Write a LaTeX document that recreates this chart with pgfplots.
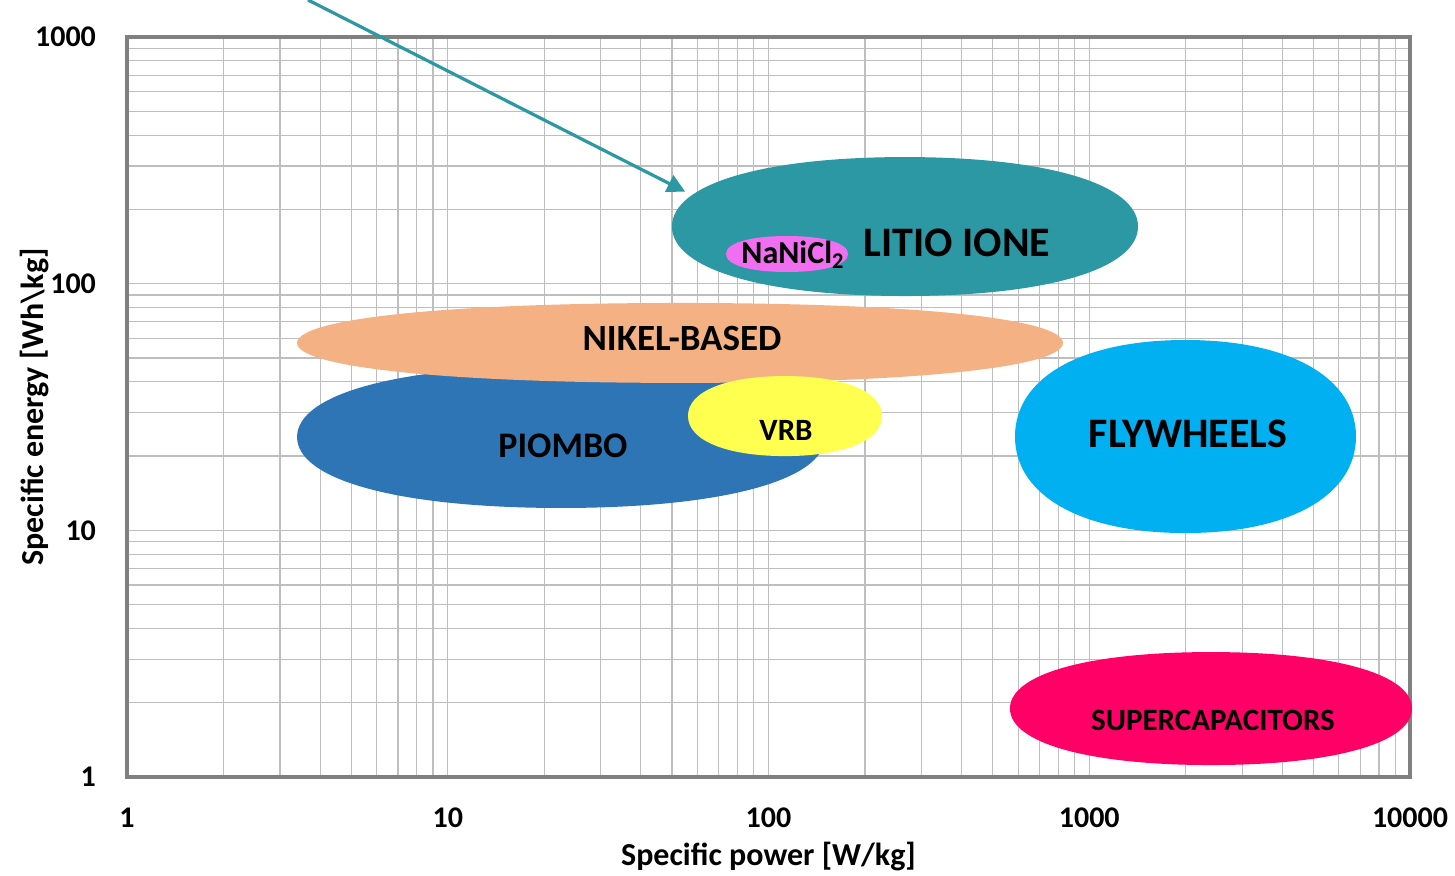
\documentclass[border=0pt]{standalone}
\usepackage{pgfplots}
\pgfplotsset{compat=1.18}
\usepackage{fontspec}
\setmainfont{Carlito}
\usetikzlibrary{arrows.meta}
\definecolor{litio}{RGB}{44,152,164}
\definecolor{nanicl}{RGB}{240,110,240}
\definecolor{nikel}{RGB}{244,177,131}
\definecolor{piombo}{RGB}{46,117,182}
\definecolor{vrb}{RGB}{255,255,80}
\definecolor{fly}{RGB}{0,176,240}
\definecolor{supercap}{RGB}{255,0,102}
\definecolor{framegray}{RGB}{128,128,128}
\definecolor{gridgray}{RGB}{190,190,190}
\begin{document}
\begin{tikzpicture}
\useasboundingbox (-63.5pt,-49.5pt) rectangle (664pt,388.5pt);
\begin{axis}[
  xmode=log, ymode=log,
  scale only axis, width=641.5pt, height=370pt,
  xmin=1, xmax=10000, ymin=1, ymax=1000,
  clip=false,
  axis line style={draw=framegray, line width=2pt},
  grid=both,
  major grid style={draw=gridgray, line width=0.6pt},
  minor grid style={draw=gridgray, line width=0.6pt},
  major tick length=0pt, minor tick length=0pt,
  xtick={1,10,100,1000,10000}, xticklabels={1,10,100,1000,10000},
  ytick={1,10,100,1000}, yticklabels={1,10,100,1000},
  minor xtick={2,3,4,5,6,7,8,9,20,30,40,50,60,70,80,90,200,300,400,500,600,700,800,900,2000,3000,4000,5000,6000,7000,8000,9000},
  minor ytick={2,3,4,5,6,7,8,9,20,30,40,50,60,70,80,90,200,300,400,500,600,700,800,900},
  x tick label style={font=\fontsize{15}{18}\selectfont\bfseries, anchor=center, yshift=-20.5pt},
  y tick label style={font=\fontsize{15}{18}\selectfont\bfseries, anchor=east, xshift=-12pt},
  xlabel={Specific power [W/kg]},
  ylabel={Specific energy [Wh\textbackslash kg]},
  xlabel style={font=\fontsize{16}{19}\selectfont\bfseries, at={([yshift=-40pt]axis description cs:0.5,0)}, anchor=center},
  ylabel style={font=\fontsize{16}{19}\selectfont\bfseries, at={([xshift=-46pt]axis description cs:0,0.5)}, anchor=center, rotate=0},
  every axis plot/.append style={tension=1.1},
]
% ellipses: left, top, right, bottom
\addplot[fill=piombo, draw=none, smooth cycle] coordinates {(3.39,23.9) (22.55,46.4) (150,23.9) (22.55,12.32)};
\addplot[fill=nikel, draw=none, smooth cycle] coordinates {(3.39,57.5) (53.0,83.5) (828,57.5) (53.0,39.6)};
\addplot[fill=vrb, draw=none, smooth cycle] coordinates {(56.1,29.1) (112.6,42.2) (225.9,29.1) (112.6,20.0)};
\addplot[fill=litio, draw=none, smooth cycle] coordinates {(50.0,170.5) (266.5,326) (1419,170.5) (266.5,89.1)};
\addplot[fill=nanicl, draw=none, smooth cycle] coordinates {(73.7,131.9) (114.2,156) (177,131.9) (114.2,111.5)};
\addplot[fill=fly, draw=none, smooth cycle] coordinates {(586.8,24.0) (1995,59.1) (6785,24.0) (1995,9.75)};
\addplot[fill=supercap, draw=none, smooth cycle] coordinates {(566,1.896) (2396,3.21) (10144,1.896) (2396,1.118)};
% arrow
\addplot[litio, line width=1.6pt, -{Triangle[length=9pt,width=9pt]}] coordinates {(3.667,1413) (55,236)};
% labels
\node[font=\fontsize{21}{24}\selectfont\bfseries, inner sep=0] at (axis cs:387,146.2) {LITIO IONE};
\node[font=\fontsize{16}{19}\selectfont\bfseries, inner sep=0] at (axis cs:119.2,130.7) {NaNiCl\textsubscript{2}};
\node[font=\fontsize{18.5}{22}\selectfont\bfseries, inner sep=0] at (axis cs:53.75,59.7) {NIKEL-BASED};
\node[font=\fontsize{18}{22}\selectfont\bfseries, inner sep=0] at (axis cs:22.87,21.98) {PIOMBO};
\node[font=\fontsize{15.5}{18}\selectfont\bfseries, inner sep=0] at (axis cs:113.4,25.5) {VRB};
\node[font=\fontsize{21}{24}\selectfont\bfseries, inner sep=0] at (axis cs:2032,24.58) {FLYWHEELS};
\node[font=\fontsize{15.5}{18}\selectfont\bfseries, inner sep=0] at (axis cs:2431,1.702) {SUPERCAPACITORS};
\end{axis}
\end{tikzpicture}
\end{document}
